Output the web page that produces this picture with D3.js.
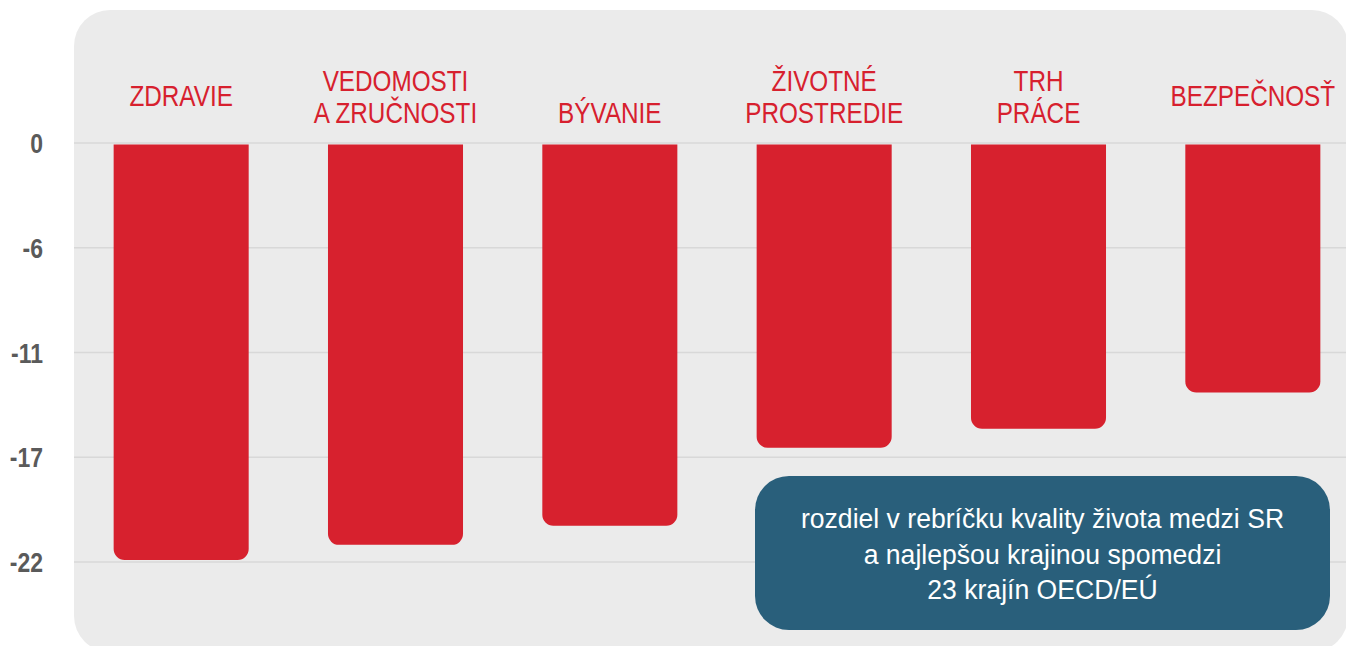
<!DOCTYPE html>
<html lang="sk">
<head>
  <meta charset="UTF-8">
  <title>Kvalita života</title>
  <script src="https://d3js.org/d3.v7.min.js"></script>
  <style>
    body {
      margin: 0;
      background: #ffffff;
      font-family: "Liberation Sans Narrow", "Arial Narrow", "Liberation Sans", Arial, sans-serif;
    }
    svg { display: block; }
    .grid line {
      stroke: #d8d8d8;
      stroke-width: 1.5;
    }
    .tick-label {
      font-size: 28px;
      font-weight: bold;
      fill: #5a5a5a;
    }
    .cat-label {
      font-size: 30px;
      fill: #d7202e;
    }
    .note-text {
      font-size: 28px;
      fill: #ffffff;
    }
  </style>
</head>
<body>
<script>
  // chart data
  const categories = ["ZDRAVIE", "VEDOMOSTI A ZRUČNOSTI", "BÝVANIE", "ŽIVOTNÉ PROSTREDIE", "TRH PRÁCE", "BEZPEČNOSŤ"];
  const labelLines = [["ZDRAVIE"], ["VEDOMOSTI", "A ZRUČNOSTI"], ["", "BÝVANIE"], ["ŽIVOTNÉ", "PROSTREDIE"], ["TRH", "PRÁCE"], ["BEZPEČNOSŤ"]];
  const values = [-21.9, -21.1, -20.1, -16.0, -15.0, -13.1];
  const tickValues = [0, -5.5, -11, -16.5, -22];
  const tickLabels = ["0", "-6", "-11", "-17", "-22"];
  const noteLines = ["rozdiel v rebríčku kvality života medzi SR", "a najlepšou krajinou spomedzi", "23 krajín OECD/EÚ"];

  const width = 1346;
  const height = 646;
  const panel = { x: 74, y: 10, w: 1274, h: 642, r: 36 };
  // no narrow font installed, so squeeze the regular one sideways
  const narrow = 0.81;

  const svg = d3.select("body").append("svg")
    .attr("width", width)
    .attr("height", height);

  // grey rounded background
  svg.append("rect")
    .attr("x", panel.x)
    .attr("y", panel.y)
    .attr("width", panel.w)
    .attr("height", panel.h)
    .attr("rx", panel.r)
    .attr("fill", "#ebebeb");

  const x = d3.scaleBand()
    .domain(categories)
    .range([74, 1360])
    .paddingInner(0.37)
    .paddingOuter(0.185);

  const y = d3.scaleLinear()
    .domain([0, -22])
    .range([143, 562]);

  // gridlines
  svg.append("g")
    .attr("class", "grid")
    .selectAll("line")
    .data(tickValues)
    .join("line")
    .attr("x1", panel.x)
    .attr("x2", width)
    .attr("y1", d => y(d))
    .attr("y2", d => y(d));

  // y axis labels
  svg.append("g")
    .selectAll("g")
    .data(tickValues)
    .join("g")
    .attr("transform", d => `translate(43,${y(d)}) scale(0.82,1)`)
    .append("text")
    .attr("class", "tick-label")
    .attr("dy", "0.36em")
    .attr("text-anchor", "end")
    .text((d, i) => tickLabels[i]);

  // bars, rounded only at the bottom
  function barPath(x0, y0, w, y1, r) {
    r = Math.min(r, (y1 - y0) / 2, w / 2);
    return `M${x0},${y0}H${x0 + w}V${y1 - r}A${r},${r} 0 0 1 ${x0 + w - r},${y1}` +
      `H${x0 + r}A${r},${r} 0 0 1 ${x0},${y1 - r}Z`;
  }

  svg.append("g")
    .selectAll("path")
    .data(categories)
    .join("path")
    .attr("fill", "#d7212e")
    .attr("d", (d, i) => barPath(x(d), y(0) + 1.5, x.bandwidth(), y(values[i]), 11));

  // category labels above the bars
  const lineGap = 32;
  const labels = svg.append("g")
    .selectAll("g")
    .data(categories)
    .join("g")
    .attr("transform", d => `translate(${x(d) + x.bandwidth() / 2},0) scale(${narrow},1)`)
    .append("text")
    .attr("class", "cat-label")
    .attr("text-anchor", "middle");

  labels.each(function (d, i) {
    const lines = labelLines[i];
    const base = lines.length === 1 ? 106.5 : 91;
    d3.select(this).selectAll("tspan")
      .data(lines)
      .join("tspan")
      .attr("x", 0)
      .attr("y", (t, j) => base + j * lineGap)
      .text(t => t);
  });

  // note box
  const note = svg.append("g");
  note.append("rect")
    .attr("x", 755)
    .attr("y", 476)
    .attr("width", 575)
    .attr("height", 154)
    .attr("rx", 34)
    .attr("fill", "#295f7b");

  note.append("g")
    .attr("transform", "translate(1042.5,0) scale(0.95,1)")
    .append("text")
    .attr("class", "note-text")
    .attr("text-anchor", "middle")
    .selectAll("tspan")
    .data(noteLines)
    .join("tspan")
    .attr("x", 0)
    .attr("y", (d, i) => 528.5 + i * 35.5)
    .text(d => d);
</script>
</body>
</html>
